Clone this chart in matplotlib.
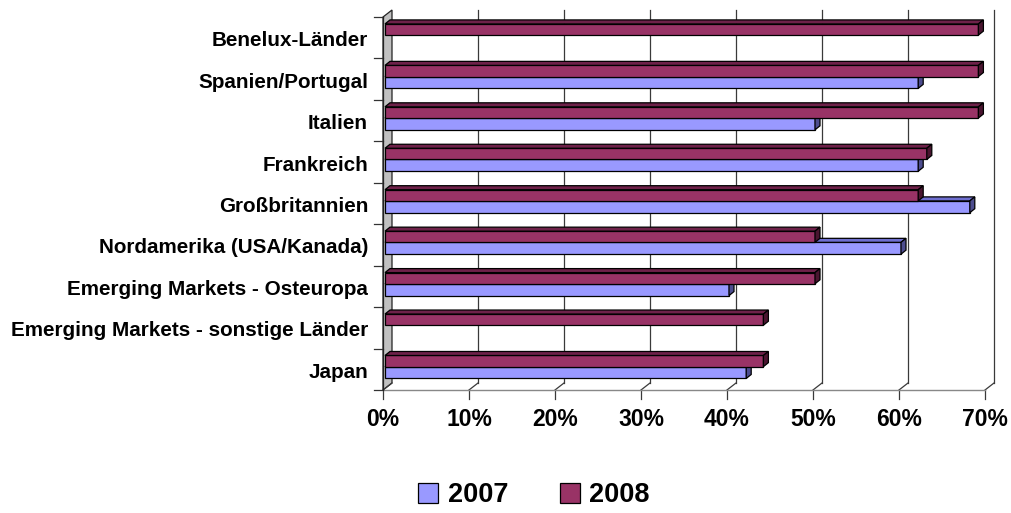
import numpy as np
import matplotlib
matplotlib.use("Agg")
import matplotlib.pyplot as plt
from matplotlib.patches import Polygon, Patch

plt.rcParams['font.family'] = ['Liberation Sans', 'DejaVu Sans']

categories = ["Benelux-Länder", "Spanien/Portugal", "Italien", "Frankreich",
              "Großbritannien", "Nordamerika (USA/Kanada)",
              "Emerging Markets - Osteuropa", "Emerging Markets - sonstige Länder",
              "Japan"]
values_2007 = [np.nan, 62, 50, 62, 68, 60, 40, np.nan, 42]
values_2008 = [69, 69, 69, 63, 62, 50, 50, 44, 44]
series_names = ["2007", "2008"]
xticks = [0, 10, 20, 30, 40, 50, 60, 70]
xtick_labels = ["0%", "10%", "20%", "30%", "40%", "50%", "60%", "70%"]

c2007, c2007_top, c2007_end = "#9999FF", "#6f6fd0", "#4d4d8f"
c2008, c2008_top, c2008_end = "#993366", "#6e2149", "#4a1530"

W, H = 1011, 513
fig = plt.figure(figsize=(W / 100, H / 100), dpi=100)
x0px, x1px, ytop_px, ybot_px = 383, 985, 17, 390
ax = fig.add_axes([x0px / W, (H - ybot_px) / H, (x1px - x0px) / W, (ybot_px - ytop_px) / H])
n = len(categories)
ax.set_xlim(0, 70)
ax.set_ylim(-0.5, n - 0.5)
ax.axis("off")

px = 70 / (x1px - x0px)        # data units per pixel in x
py = n / (ybot_px - ytop_px)   # data units per pixel in y

# depth of walls
wdx, wdy = 9 * px, 7 * py
ylo, yhi = -0.5, n - 0.5

# side wall
ax.add_patch(Polygon([(0, ylo), (wdx, ylo + wdy), (wdx, yhi + wdy), (0, yhi)],
                     closed=True, facecolor="#c0c0c0", edgecolor="#222222",
                     lw=0.9, clip_on=False, zorder=1))
# back gridlines & floor
for v, lab in zip(xticks, xtick_labels):
    if v > 0:
        ax.plot([v + wdx, v + wdx], [ylo + wdy, yhi + wdy], color="#3a3a3a", lw=0.9,
                clip_on=False, zorder=1)
    ax.plot([v, v + wdx], [ylo, ylo + wdy], color="#3a3a3a", lw=0.9, clip_on=False, zorder=1)
    ax.plot([v, v], [ylo, ylo - 9 * py], color="#3a3a3a", lw=0.9, clip_on=False, zorder=1)
    ax.text(v, ylo - 30 * py, lab, ha="center", va="center",
            fontsize=16.5, fontweight="bold", color="black")
ax.plot([0, 70], [ylo, ylo], color="#888888", lw=1.0, clip_on=False, zorder=1)
ax.plot([0, 0], [ylo, yhi], color="#222222", lw=0.9, clip_on=False, zorder=2)
for k in range(n + 1):
    yb = ylo + k
    ax.plot([0, -9 * px], [yb, yb], color="#333333", lw=0.9, clip_on=False, zorder=1)

# category labels
for i, cat in enumerate(categories):
    c = n - 1 - i
    ax.text(-15 * px, c - 3 * py, cat, ha="right", va="center", fontsize=14.9,
            fontweight="bold", color="black")

# bars
bdx, bdy = 5 * px, 4 * py
xoff = 2 * px


def bar3d(val, yb, h, front, top, end, z):
    if np.isnan(val):
        return
    xa, xb = xoff, xoff + val
    yt = yb + h
    ax.barh(yb, val, height=h, left=xoff, align="edge", color=front,
            edgecolor="black", lw=0.9, zorder=z)
    ax.add_patch(Polygon([(xa, yt), (xa + bdx, yt + bdy), (xb + bdx, yt + bdy), (xb, yt)],
                         closed=True, facecolor=top, edgecolor="black", lw=0.9,
                         zorder=z, clip_on=False))
    ax.add_patch(Polygon([(xb, yb), (xb + bdx, yb + bdy), (xb + bdx, yt + bdy), (xb, yt)],
                         closed=True, facecolor=end, edgecolor="black", lw=0.9,
                         zorder=z, clip_on=False))


for i in range(n):
    c = n - 1 - i
    bar3d(values_2007[i], c - 0.222, 0.285, c2007, c2007_top, c2007_end, 3 + 0.01 * i)
    bar3d(values_2008[i], c + 0.063, 0.27, c2008, c2008_top, c2008_end, 4 + 0.01 * i)

handles = [Patch(facecolor=c2007, edgecolor="black", lw=0.9),
           Patch(facecolor=c2008, edgecolor="black", lw=0.9)]
leg = fig.legend(handles, series_names, loc="center", bbox_to_anchor=(0.528, 0.035),
                 ncol=2, frameon=False, handlelength=0.75, handleheight=0.75,
                 handletextpad=0.35, columnspacing=1.9,
                 prop={"size": 19.5, "weight": "bold"})

fig.savefig("out.png", dpi=100)
